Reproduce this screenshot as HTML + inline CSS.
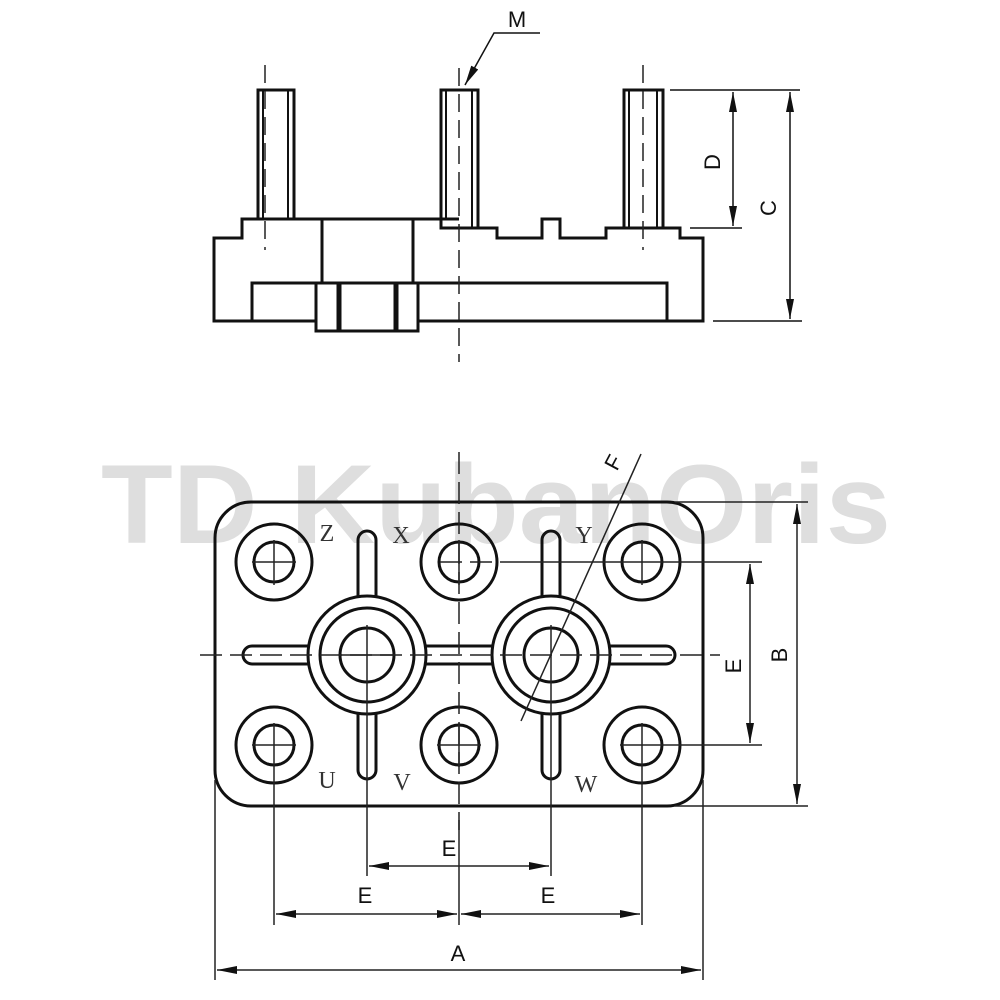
<!DOCTYPE html>
<html><head><meta charset="utf-8"><style>html,body{margin:0;padding:0;background:#fff}svg{display:block}</style></head>
<body>
<svg width="1000" height="1000" viewBox="0 0 1000 1000" xmlns="http://www.w3.org/2000/svg">
<defs>
<marker id="ar" viewBox="0 0 20 8" refX="20" refY="4" markerWidth="20" markerHeight="8" markerUnits="userSpaceOnUse" orient="auto-start-reverse"><path d="M0,0 L20,4 L0,8 Z" fill="#111"/></marker>
</defs>
<text x="496" y="543" font-family="Liberation Sans, sans-serif" font-weight="bold" font-size="112" fill="#dedede" text-anchor="middle" textLength="790" lengthAdjust="spacingAndGlyphs">TD KubanOris</text>

<g fill="none" stroke="#111" stroke-width="3">
<rect x="258" y="90" width="36" height="129"/>
<rect x="441" y="90" width="37" height="138"/>
<rect x="624" y="90" width="39" height="138"/>
</g>
<g stroke="#111" stroke-width="2">
<line x1="263" y1="90" x2="263" y2="219"/><line x1="288" y1="90" x2="288" y2="219"/>
<line x1="446" y1="90" x2="446" y2="219"/><line x1="472" y1="90" x2="472" y2="228"/>
<line x1="629" y1="90" x2="629" y2="228"/><line x1="657" y1="90" x2="657" y2="228"/>
</g>
<g fill="none" stroke="#111" stroke-width="3" stroke-linejoin="miter">
<path d="M459,219 L242,219 L242,238 L214,238 L214,321 L703,321 L703,238 L680,238 L680,228 L606,228 L606,238 L560,238 L560,219 L542,219 L542,238 L497,238 L497,228 L459,228"/>
<rect x="322" y="219" width="91" height="64"/>
<path d="M252,321 L252,283 L667,283 L667,321"/>
<rect x="316" y="283" width="102" height="48" fill="#fff"/>
<line x1="338" y1="283" x2="338" y2="331"/><line x1="340" y1="283" x2="340" y2="331"/>
<line x1="395" y1="283" x2="395" y2="331"/><line x1="397" y1="283" x2="397" y2="331"/>
</g>
<g stroke="#222" stroke-width="1.5" stroke-dasharray="18,8" fill="none">
<line x1="459" y1="68" x2="459" y2="362"/>
<line x1="265" y1="65" x2="265" y2="250"/>
<line x1="643" y1="65" x2="643" y2="250"/>
</g>
<g stroke="#111" stroke-width="1.5" fill="none">
<polyline points="540,33 494,33 465,85" marker-end="url(#ar)"/>
<line x1="670" y1="90" x2="800" y2="90"/>
<line x1="690" y1="228" x2="742" y2="228"/>
<line x1="713" y1="321" x2="802" y2="321"/>
<line x1="733" y1="92" x2="733" y2="226" marker-start="url(#ar)" marker-end="url(#ar)"/>
<line x1="790" y1="92" x2="790" y2="319" marker-start="url(#ar)" marker-end="url(#ar)"/>
</g>
<g font-family="Liberation Sans, sans-serif" font-size="22" fill="#111">
<text x="517" y="27" text-anchor="middle">M</text>
<text transform="translate(720,162) rotate(-90)" text-anchor="middle">D</text>
<text transform="translate(776,208) rotate(-90)" text-anchor="middle">C</text>
</g>

<rect x="215" y="502" width="488" height="304" rx="36" fill="none" stroke="#111" stroke-width="3"/>
<g fill="none" stroke="#111" stroke-width="3">
<circle cx="274" cy="562" r="38"/><circle cx="274" cy="562" r="20"/>
<circle cx="459" cy="562" r="38"/><circle cx="459" cy="562" r="20"/>
<circle cx="642" cy="562" r="38"/><circle cx="642" cy="562" r="20"/>
<circle cx="274" cy="745" r="38"/><circle cx="274" cy="745" r="20"/>
<circle cx="459" cy="745" r="38"/><circle cx="459" cy="745" r="20"/>
<circle cx="642" cy="745" r="38"/><circle cx="642" cy="745" r="20"/>
<circle cx="367" cy="655" r="59"/><circle cx="367" cy="655" r="47"/><circle cx="367" cy="655" r="27"/>
<circle cx="551" cy="655" r="59"/><circle cx="551" cy="655" r="47"/><circle cx="551" cy="655" r="27"/>
<path d="M358,596 L358,540 A9,9 0 0 1 376,540 L376,596"/>
<path d="M358,714 L358,770 A9,9 0 0 0 376,770 L376,714"/>
<path d="M542,596 L542,540 A9,9 0 0 1 560,540 L560,596"/>
<path d="M542,714 L542,770 A9,9 0 0 0 560,770 L560,714"/>
<path d="M308,646 L252,646 A9,9 0 0 0 252,664 L308,664"/>
<path d="M426,646 L492,646 M426,664 L492,664"/>
<path d="M610,646 L666,646 A9,9 0 0 1 666,664 L610,664"/>
</g>
<g stroke="#222" stroke-width="1.5" fill="none">
<g stroke-dasharray="22,8">
<line x1="200" y1="655" x2="720" y2="655"/>
<line x1="459" y1="452" x2="459" y2="830"/>
<line x1="440" y1="562" x2="520" y2="562"/>
</g>
<line x1="252" y1="562" x2="296" y2="562"/><line x1="274" y1="540" x2="274" y2="585"/>
<line x1="437" y1="745" x2="481" y2="745"/><line x1="459" y1="723" x2="459" y2="767"/>
<line x1="459" y1="540" x2="459" y2="585"/>
<line x1="252" y1="745" x2="296" y2="745"/><line x1="274" y1="723" x2="274" y2="925"/>
<line x1="520" y1="562" x2="762" y2="562"/><line x1="642" y1="540" x2="642" y2="585"/>
<line x1="620" y1="745" x2="762" y2="745"/><line x1="642" y1="723" x2="642" y2="925"/>
<line x1="367" y1="625" x2="367" y2="876"/><line x1="340" y1="655" x2="395" y2="655"/>
<line x1="551" y1="625" x2="551" y2="876"/>
<line x1="459" y1="820" x2="459" y2="925"/>
<line x1="215" y1="780" x2="215" y2="980"/><line x1="703" y1="780" x2="703" y2="980"/>
<line x1="675" y1="502" x2="808" y2="502"/><line x1="675" y1="806" x2="808" y2="806"/>
<line x1="750" y1="564" x2="750" y2="743" marker-start="url(#ar)" marker-end="url(#ar)"/>
<line x1="797" y1="504" x2="797" y2="804" marker-start="url(#ar)" marker-end="url(#ar)"/>
<line x1="641" y1="454" x2="521" y2="721"/>
<line x1="369" y1="866" x2="549" y2="866" marker-start="url(#ar)" marker-end="url(#ar)"/>
<line x1="276" y1="914" x2="457" y2="914" marker-start="url(#ar)" marker-end="url(#ar)"/>
<line x1="461" y1="914" x2="640" y2="914" marker-start="url(#ar)" marker-end="url(#ar)"/>
<line x1="217" y1="970" x2="701" y2="970" marker-start="url(#ar)" marker-end="url(#ar)"/>
</g>
<g font-family="Liberation Serif, serif" font-size="24" fill="#333" text-anchor="middle">
<text x="327" y="541">Z</text><text x="401" y="543">X</text><text x="584" y="543">Y</text>
<text x="327" y="788">U</text><text x="402" y="790">V</text><text x="586" y="792">W</text>
</g>
<g font-family="Liberation Sans, sans-serif" font-size="22" fill="#111" text-anchor="middle">
<text transform="translate(620,466) rotate(-62)">F</text>
<text transform="translate(741,666) rotate(-90)">E</text>
<text transform="translate(787,655) rotate(-90)">B</text>
<text x="449" y="856">E</text>
<text x="365" y="903">E</text>
<text x="548" y="903">E</text>
<text x="458" y="961">A</text>
</g>
</svg>
</body></html>
